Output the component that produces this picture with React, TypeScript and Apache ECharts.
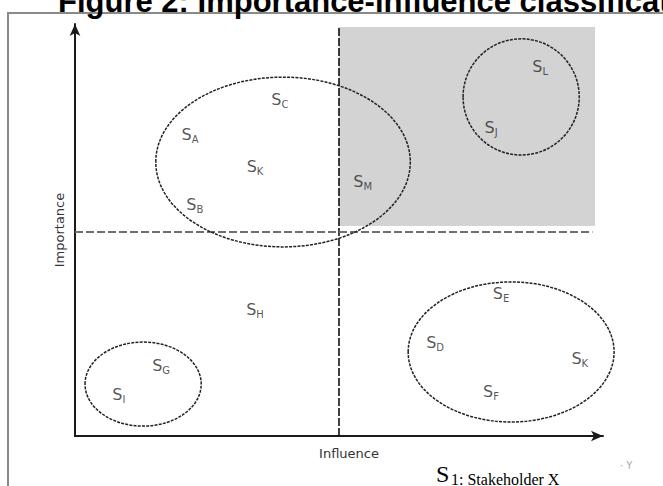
import React, { useEffect, useRef } from "react";
import * as echarts from "echarts";

// Stakeholders (influence = x, importance = y, 0..100 scale)
const stakeholderNames = ["C", "A", "K", "B", "M", "L", "J", "H", "G", "I", "E", "D", "K", "F"];
const stakeholderInfluence = [38.8, 21.8, 34.1, 22.7, 54.5, 88.1, 78.8, 34.1, 16.3, 8.3, 80.7, 68.2, 95.6, 78.8];
const stakeholderImportance = [81.6, 73.1, 65.3, 56.1, 61.7, 89.6, 75.0, 30.6, 17.2, 10.0, 34.7, 22.6, 18.9, 10.7];

// Stakeholder groupings (ellipses): centre and radii in axis units
const groupCenterX = [39.4, 84.5, 12.9, 82.6];
const groupCenterY = [66.5, 82.3, 12.6, 20.4];
const groupRadiusX = [24.1, 11.0, 11.0, 19.5];
const groupRadiusY = [20.6, 14.1, 10.2, 17.0];

// Quadrant dividers and highlighted quadrant
const influenceDivider = 50;
const importanceDivider = 49.5;
const highlightQuadrant = { x0: 50, y0: 51, x1: 98.5, y1: 99.3 };

const titleText = "Figure 2: Importance-influence classification";
const xAxisName = "Influence";
const yAxisName = "Importance";

export default function App() {
  const ref = useRef<HTMLDivElement>(null);

  useEffect(() => {
    if (!ref.current) return;
    const chart = echarts.init(ref.current, undefined, { renderer: "svg" });

    const labelData = stakeholderNames.map((n, i) => ({
      name: n,
      value: [stakeholderInfluence[i], stakeholderImportance[i]],
    }));
    const ellipseData = groupCenterX.map((cx, i) => [cx, groupCenterY[i], groupRadiusX[i], groupRadiusY[i]]);

    chart.setOption({
      animation: false,
      backgroundColor: "#fff",
      title: {
        text: titleText,
        left: 58,
        top: -14,
        padding: 0,
        textStyle: { fontSize: 31, fontWeight: "bold", fontFamily: "Liberation Sans", color: "#000" },
      },
      graphic: [
        {
          type: "rect",
          z: -10,
          shape: { x: 8, y: 13, width: 720, height: 600 },
          style: { fill: "none", stroke: "#8a8a8a", lineWidth: 2 },
        },
        {
          type: "text",
          x: 436,
          y: 486,
          style: { text: "S", font: '24px "Liberation Serif"', fill: "#000", verticalAlign: "bottom" },
        },
        {
          type: "text",
          x: 451,
          y: 487,
          style: { text: "1: Stakeholder X", font: '16px "Liberation Serif"', fill: "#000", verticalAlign: "bottom" },
        },
        {
          type: "text",
          x: 620,
          y: 470,
          style: { text: "· Y", font: '10px "DejaVu Sans"', fill: "#aaa", verticalAlign: "bottom" },
        },
      ],
      grid: { left: 75, right: 60, top: 24, bottom: 50 },
      xAxis: {
        type: "value",
        min: 0,
        max: 100,
        name: xAxisName,
        nameLocation: "middle",
        nameGap: 11,
        nameTextStyle: { fontFamily: "DejaVu Sans", fontSize: 13, color: "#333", padding: [0, 0, 0, 20] },
        axisLine: {
          show: true,
          symbol: ["none", "arrow"],
          symbolSize: [8, 12],
          lineStyle: { color: "#1a1a1a", width: 2 },
        },
        axisTick: { show: false },
        axisLabel: { show: false },
        splitLine: { show: false },
      },
      yAxis: {
        type: "value",
        min: 0,
        max: 100,
        name: yAxisName,
        nameLocation: "middle",
        nameRotate: 90,
        nameGap: 9,
        nameTextStyle: { fontFamily: "DejaVu Sans", fontSize: 13, color: "#333" },
        axisLine: {
          show: true,
          symbol: ["none", "arrow"],
          symbolSize: [8, 12],
          lineStyle: { color: "#1a1a1a", width: 2 },
        },
        axisTick: { show: false },
        axisLabel: { show: false },
        splitLine: { show: false },
      },
      series: [
        {
          type: "scatter",
          data: [],
          silent: true,
          markArea: {
            silent: true,
            itemStyle: { color: "#d3d3d3" },
            data: [[{ coord: [highlightQuadrant.x0, highlightQuadrant.y0] }, { coord: [highlightQuadrant.x1, highlightQuadrant.y1] }]],
          },
          markLine: {
            silent: true,
            symbol: "none",
            label: { show: false },
            data: [
              [
                { coord: [influenceDivider, 0], lineStyle: { color: "#111", width: 1.6, type: [8, 2] } },
                { coord: [influenceDivider, 99] },
              ],
              [
                { coord: [0, importanceDivider], lineStyle: { color: "#707070", width: 2, type: [8, 3] } },
                { coord: [98, importanceDivider] },
              ],
            ],
          },
        },
        {
          type: "custom",
          silent: true,
          data: ellipseData,
          encode: { x: 0, y: 1 },
          z: 5,
          renderItem: (params: any, api: any) => {
            const c = api.coord([api.value(0), api.value(1)]);
            const s = api.size([api.value(2), api.value(3)]);
            return {
              type: "ellipse",
              shape: { cx: c[0], cy: c[1], rx: s[0], ry: s[1] },
              style: { fill: "none", stroke: "#222", lineWidth: 1.5, lineDash: [3, 1.2] },
            };
          },
        },
        {
          type: "scatter",
          silent: true,
          z: 6,
          symbolSize: 1,
          itemStyle: { color: "rgba(0,0,0,0)" },
          data: labelData,
          label: {
            show: true,
            position: "inside",
            formatter: (p: any) => `{s|S}{sub|${p.name}}`,
            rich: {
              s: { fontFamily: "DejaVu Sans", fontSize: 16, color: "#2a2a2a", lineHeight: 22, verticalAlign: "middle" },
              sub: { fontFamily: "DejaVu Sans", fontSize: 10, color: "#2a2a2a", lineHeight: 22, verticalAlign: "bottom", padding: [0, 0, 1, 0] },
            },
          },
        },
      ],
    });

    return () => chart.dispose();
  }, []);

  return <div ref={ref} style={{ position: "fixed", left: 0, top: 0, width: 663, height: 486 }} />;
}
